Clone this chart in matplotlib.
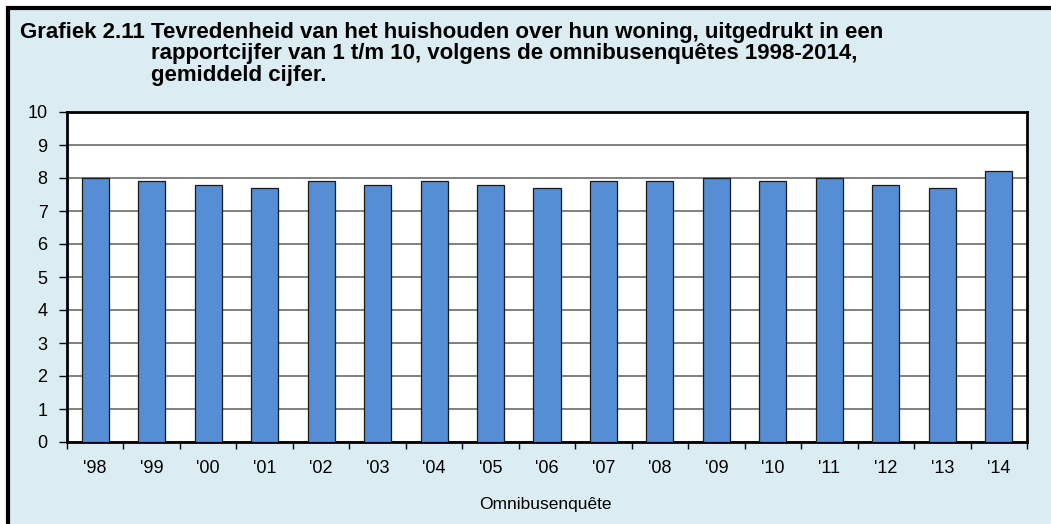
import matplotlib.pyplot as plt
import numpy as np
from matplotlib.patches import Rectangle

plt.rcParams['font.family'] = ['Liberation Sans', 'DejaVu Sans']

# data
years = ["'98", "'99", "'00", "'01", "'02", "'03", "'04", "'05", "'06",
         "'07", "'08", "'09", "'10", "'11", "'12", "'13", "'14"]
scores = [8.0, 7.9, 7.8, 7.7, 7.9, 7.8, 7.9, 7.8, 7.7,
          7.9, 7.9, 8.0, 7.9, 8.0, 7.8, 7.7, 8.2]

title_lines = ['Tevredenheid van het huishouden over hun woning, uitgedrukt in een',
               'rapportcijfer van 1 t/m 10, volgens de omnibusenquêtes 1998-2014,',
               'gemiddeld cijfer.']

W, H = 1051, 524
bg = '#DBEDF3'

fig = plt.figure(figsize=(W / 100, H / 100), dpi=100)
fig.patch.set_facecolor('white')

# light blue panel with black frame (right/bottom run off the image)
panel = Rectangle((7.5 / W, -0.05), 1.1, (H - 7.5) / H + 0.05,
                  transform=fig.transFigure, facecolor=bg,
                  edgecolor='black', linewidth=3, zorder=-5)
fig.patches.append(panel)

left, right, top, bottom = 67, 1027, 112, 442
ax = fig.add_axes([left / W, (H - bottom) / H, (right - left) / W, (bottom - top) / H])
ax.set_facecolor('white')

x = np.arange(len(years))
ax.bar(x, scores, width=0.48, color='#558ED5', edgecolor='#1a1a1a', linewidth=0.9, zorder=3)

ax.set_xlim(-0.5, len(years) - 0.5)
ax.set_ylim(0, 10)
ax.set_yticks(range(0, 11))
# ticks between categories, labels centred under the bars
ax.set_xticks(np.arange(-0.5, len(years), 1.0))
ax.set_xticklabels([])
ax.set_xticks(x, minor=True)
ax.set_xticklabels(years, minor=True)
ax.tick_params(axis='x', which='minor', length=0, pad=13, labelsize=13)
ax.tick_params(axis='x', which='major', length=5, width=1, color='black', direction='out')
ax.tick_params(axis='y', length=6, width=1, direction='out', labelsize=13, pad=8)

ax.yaxis.grid(True, color='#808080', linewidth=1.4, zorder=1)
ax.set_axisbelow(True)
for s in ax.spines.values():
    s.set_linewidth(2.0)
    s.set_color('black')

fig.text(545 / W, 1 - 504 / H, 'Omnibusenquête', ha='center', va='center', fontsize=12.5)

# title with hanging indent
fig.text(20 / W, 1 - 38 / H, 'Grafiek 2.11', ha='left', va='baseline',
         fontsize=16, fontweight='bold')
for i, line in enumerate(title_lines):
    fig.text(151 / W, 1 - (38 + 21.5 * i) / H, line, ha='left', va='baseline',
             fontsize=16, fontweight='bold')

fig.savefig('out.png', dpi=100, facecolor=fig.get_facecolor())
